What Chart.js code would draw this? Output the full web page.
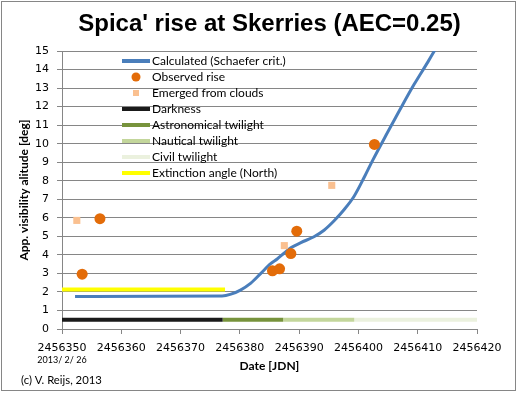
<!DOCTYPE html>
<html>
<head>
<meta charset="utf-8">
<title>Spica' rise at Skerries</title>
<script src="https://cdn.jsdelivr.net/npm/chart.js@4.4.1/dist/chart.umd.min.js"></script>
<style>
  html, body { margin: 0; padding: 0; background: #fff; }
  #chartBox { width: 520px; height: 393px; }
</style>
</head>
<body>
<div id="chartBox"><canvas id="riseChart" width="520" height="393"></canvas></div>
<script>
// calculated visibility altitude (Schaefer crit.)
const calcJdn = [2456352.2, 2456377.0, 2456378.5, 2456380.1, 2456381.8, 2456383.5, 2456385.2, 2456386.3,
                 2456387.5, 2456388.6, 2456390.3, 2456392.5, 2456394.2, 2456395.9, 2456397.6, 2456399.3,
                 2456401.0, 2456402.4, 2456404.9, 2456407.2, 2456409.4, 2456411.7, 2456412.9];
const calcAlt = [1.76, 1.78, 1.88, 2.1, 2.46, 2.99, 3.53, 3.78,
                 4.1, 4.38, 4.66, 4.98, 5.33, 5.84, 6.45, 7.18,
                 8.2, 9.1, 10.6, 11.95, 13.2, 14.4, 15.05];

// observed rise
const obsJdn = [2456353.4, 2456356.4, 2456385.5, 2456386.7, 2456388.6, 2456389.6, 2456402.7];
const obsAlt = [2.96, 5.95, 3.14, 3.25, 4.07, 5.28, 9.96];

// emerged from clouds
const cloudJdn = [2456352.5, 2456387.5, 2456395.5];
const cloudAlt = [5.86, 4.5, 7.75];

// twilight bands (drawn at a fixed altitude)
const bandNames = ['Darkness', 'Astronomical twilight', 'Nautical twilight', 'Civil twilight'];
const bandStart = [2456350, 2456377.1, 2456387.3, 2456399.3];
const bandEnd = [2456377.1, 2456387.3, 2456399.3, 2456420];
const bandAlt = 0.5;

// extinction angle (North)
const extJdn = [2456350, 2456377.5];
const extAlt = 2.13;

const xMin = 2456350, xMax = 2456420, xStep = 10;
const yMin = 0, yMax = 15, yStep = 1;
const startDate = '2013/ 2/ 26';
const credit = '(c) V. Reijs, 2013';

const bandColors = ['#1a1a1a', '#77933c', '#c3d69b', '#ebf1de'];
const blue = '#4a7ebb', orange = '#e36c09', peach = '#fac090', yellow = '#ffff00';
const gridGrey = '#868686';

const toPoints = (xs, ys) => xs.map((x, i) => ({ x: x, y: Array.isArray(ys) ? ys[i] : ys }));

// small icons for the legend
function lineIcon(color, h) {
  const c = document.createElement('canvas');
  c.width = 28; c.height = h;
  const g = c.getContext('2d');
  g.fillStyle = color;
  g.fillRect(0, 0, 28, h);
  return c;
}
function dotIcon(color) {
  const c = document.createElement('canvas');
  c.width = 10; c.height = 10;
  const g = c.getContext('2d');
  g.fillStyle = color;
  g.beginPath(); g.arc(5, 5, 4.5, 0, Math.PI * 2); g.fill();
  return c;
}
function squareIcon(color) {
  const c = document.createElement('canvas');
  c.width = 6; c.height = 6;
  const g = c.getContext('2d');
  g.fillStyle = color;
  g.fillRect(0, 0, 6, 6);
  return c;
}

const bandSets = bandNames.map((name, i) => ({
  type: 'line',
  label: name,
  data: toPoints([bandStart[i], bandEnd[i]], bandAlt),
  borderColor: bandColors[i],
  borderWidth: 4,
  pointRadius: 0,
  order: 3,
  icon: lineIcon(bandColors[i], 4)
}));

const datasets = [
  {
    type: 'line',
    label: 'Calculated (Schaefer crit.)',
    data: toPoints(calcJdn, calcAlt),
    borderColor: blue,
    borderWidth: 3,
    pointRadius: 0,
    cubicInterpolationMode: 'monotone',
    order: 2,
    icon: lineIcon(blue, 4)
  },
  {
    type: 'scatter',
    label: 'Observed rise',
    data: toPoints(obsJdn, obsAlt),
    pointStyle: 'circle',
    pointRadius: 5.5,
    backgroundColor: orange,
    borderColor: orange,
    borderWidth: 0,
    order: 0,
    icon: dotIcon(orange)
  },
  {
    type: 'scatter',
    label: 'Emerged from clouds',
    data: toPoints(cloudJdn, cloudAlt),
    pointStyle: 'rect',
    pointRadius: 5,
    backgroundColor: peach,
    borderColor: peach,
    borderWidth: 0,
    order: 1,
    icon: squareIcon(peach)
  },
  ...bandSets,
  {
    type: 'line',
    label: 'Extinction angle (North)',
    data: toPoints(extJdn, extAlt),
    borderColor: yellow,
    borderWidth: 4,
    pointRadius: 0,
    order: 3,
    icon: lineIcon(yellow, 4)
  }
];

// put the legend inside the plot area, left of centre
const legendSpot = {
  id: 'legendSpot',
  afterLayout(chart) {
    chart.legend.left = 122;
    chart.legend.top = chart.chartArea.top;
  }
};

// start date under first tick, credit, outer frame
const notes = {
  id: 'notes',
  afterDraw(chart) {
    const ctx = chart.ctx;
    const x0 = chart.scales.x.getPixelForValue(xMin);
    ctx.save();
    ctx.fillStyle = '#000';
    ctx.textBaseline = 'middle';
    ctx.textAlign = 'center';
    ctx.font = '9px Lato';
    ctx.fillText(startDate, x0, 360);
    ctx.textAlign = 'left';
    ctx.font = '11.3px Lato';
    ctx.fillText(credit, 21, 380);
    ctx.strokeStyle = gridGrey;
    ctx.lineWidth = 1;
    ctx.strokeRect(1.5, 1.5, 514, 389);
    ctx.restore();
  }
};

const ctx = document.getElementById('riseChart');
new Chart(ctx, {
  data: { datasets: datasets },
  plugins: [legendSpot, notes],
  options: {
    responsive: false,
    animation: false,
    devicePixelRatio: 1,
    layout: { padding: { left: 0, right: 43, top: 0, bottom: 0 } },
    plugins: {
      title: {
        display: true,
        text: "Spica' rise at Skerries (AEC=0.25)",
        fullSize: false,
        color: '#000',
        font: { family: 'Liberation Sans', size: 24, weight: 'bold' },
        padding: { top: 9.5, bottom: 12.7 }
      },
      legend: {
        position: 'chartArea',
        align: 'start',
        labels: {
          usePointStyle: true,
          pointStyleWidth: 20,
          padding: 4,
          color: '#000',
          font: { family: 'Lato', size: 12 },
          generateLabels: chart => chart.data.datasets.map((ds, i) => ({
            text: ds.label,
            pointStyle: ds.icon,
            fillStyle: 'transparent',
            strokeStyle: 'transparent',
            lineWidth: 0,
            hidden: false,
            datasetIndex: i,
            fontColor: '#000'
          }))
        }
      },
      tooltip: { enabled: false }
    },
    scales: {
      x: {
        type: 'linear',
        min: xMin,
        max: xMax,
        afterFit: scale => { scale.height = 64; },
        ticks: {
          stepSize: xStep,
          color: '#000',
          padding: 8,
          maxRotation: 0,
          font: { family: 'DejaVu Sans', size: 11 },
          callback: v => String(v)
        },
        grid: { drawOnChartArea: false, drawTicks: true, tickLength: 5, color: gridGrey },
        border: { color: gridGrey },
        title: {
          display: true,
          text: 'Date [JDN]',
          color: '#000',
          font: { family: 'Lato', size: 12, weight: 'bold' },
          padding: { top: 0, bottom: 20 }
        }
      },
      y: {
        min: yMin,
        max: yMax,
        afterFit: scale => { scale.width = 62; },
        ticks: {
          stepSize: yStep,
          color: '#000',
          padding: 8,
          font: { family: 'DejaVu Sans', size: 11 }
        },
        grid: { color: gridGrey, tickLength: 5 },
        border: { color: gridGrey },
        title: {
          display: true,
          text: 'App. visibility alitude [deg]',
          color: '#000',
          font: { family: 'Lato', size: 12, weight: 'bold' },
          padding: { top: 17, bottom: 0 }
        }
      }
    }
  }
});
</script>
</body>
</html>
